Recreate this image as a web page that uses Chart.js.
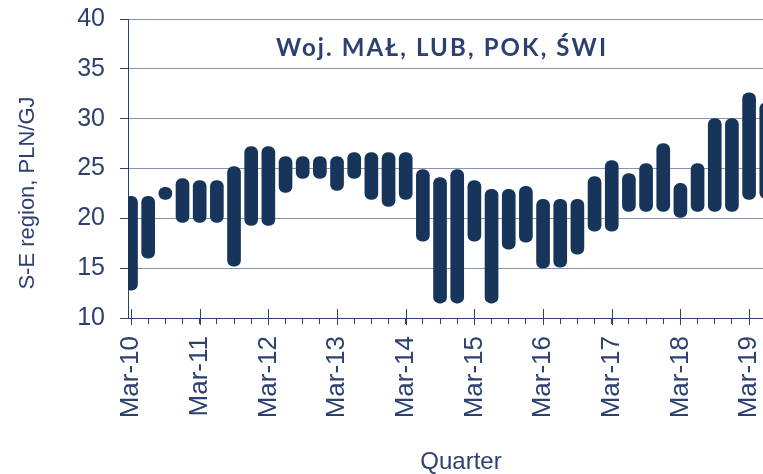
<!DOCTYPE html>
<html lang="pl">
<head>
    <meta charset="UTF-8">
    <title>Woj. MAŁ, LUB, POK, ŚWI</title>
    <script src="https://cdn.jsdelivr.net/npm/chart.js"></script>
    <style>
        body { margin: 0; background: #fff; overflow: hidden; }
        canvas { display: block; }
    </style>
</head>
<body>
    <canvas id="myChart" width="763" height="474"></canvas>
    <script>
        // Quarterly price ranges, S-E region (PLN/GJ)
        const quarters = [
            "Mar-10", "Jun-10", "Sep-10", "Dec-10", "Mar-11", "Jun-11", "Sep-11", "Dec-11",
            "Mar-12", "Jun-12", "Sep-12", "Dec-12", "Mar-13", "Jun-13", "Sep-13", "Dec-13",
            "Mar-14", "Jun-14", "Sep-14", "Dec-14", "Mar-15", "Jun-15", "Sep-15", "Dec-15",
            "Mar-16", "Jun-16", "Sep-16", "Dec-16", "Mar-17", "Jun-17", "Sep-17", "Dec-17",
            "Mar-18", "Jun-18", "Sep-18", "Dec-18", "Mar-19", "Jun-19"
        ];
        const lowPrice = [
            12.8, 16.0, 21.9, 19.6, 19.6, 19.6, 15.2, 19.3,
            19.3, 22.6, 24.0, 24.0, 22.8, 24.0, 21.9, 21.2,
            21.9, 17.7, 11.5, 11.5, 17.7, 11.5, 16.9, 17.6,
            15.0, 15.1, 16.4, 18.7, 18.7, 20.7, 20.7, 20.7,
            20.1, 20.7, 20.7, 20.7, 21.9, 22.0
        ];
        const highPrice = [
            22.2, 22.2, 23.1, 24.0, 23.8, 23.8, 25.2, 27.2,
            27.2, 26.2, 26.2, 26.2, 26.2, 26.6, 26.6, 26.6,
            26.6, 24.9, 24.1, 24.9, 23.8, 22.9, 22.9, 23.2,
            21.9, 21.9, 21.9, 24.2, 25.8, 24.5, 25.5, 27.5,
            23.5, 25.5, 30.0, 30.0, 32.6, 31.6
        ];
        const yTicks = [10, 15, 20, 25, 30, 35, 40];
        const chartTitle = "Woj. MAŁ, LUB, POK, ŚWI";

        const navy = "#2d4170";
        const barColor = "#17355a";
        const gridColor = "#8893ad";

        // extra text + crossing major ticks, Excel style
        const decorations = {
            id: "decorations",
            afterDraw(chart) {
                const { ctx, chartArea, scales } = chart;
                const x = scales.x;
                ctx.save();
                ctx.strokeStyle = navy;
                ctx.lineWidth = 1;
                quarters.forEach((q, i) => {
                    if (i % 4 !== 0) return;
                    const px = Math.round(x.getPixelForValue(i)) + 0.5;
                    ctx.beginPath();
                    ctx.moveTo(px, chartArea.bottom - 9);
                    ctx.lineTo(px, chartArea.bottom + 7);
                    ctx.stroke();
                });

                ctx.fillStyle = navy;
                ctx.textBaseline = "middle";

                // title is wider in the original, spread the letters a bit
                ctx.font = "bold 24px Lato";
                ctx.textAlign = "left";
                const w = ctx.measureText(chartTitle).width;
                const spacing = (330 - w) / (chartTitle.length - 1);
                ctx.letterSpacing = spacing + "px";
                ctx.fillText(chartTitle, 441 - 165, 48);
                ctx.letterSpacing = "0px";

                ctx.textAlign = "center";
                ctx.font = "24px 'Liberation Sans'";
                ctx.fillText("Quarter", 461, 462);

                ctx.translate(28, 193);
                ctx.rotate(-Math.PI / 2);
                ctx.font = "22px 'Liberation Sans'";
                ctx.fillText("S-E region, PLN/GJ", 0, 0);
                ctx.restore();
            }
        };

        const ctx = document.getElementById("myChart").getContext("2d");
        new Chart(ctx, {
            type: "bar",
            data: {
                datasets: [{
                    label: "Price range",
                    data: quarters.map((q, i) => ({ x: i, y: [lowPrice[i], highPrice[i]] })),
                    backgroundColor: barColor,
                    borderWidth: 0,
                    borderSkipped: false,
                    borderRadius: 6,
                    barThickness: 13
                }]
            },
            options: {
                responsive: false,
                animation: false,
                layout: { padding: { top: 19, right: 0, left: 0, bottom: 0 } },
                plugins: {
                    legend: { display: false },
                    tooltip: { enabled: false }
                },
                scales: {
                    x: {
                        type: "linear",
                        min: -0.175,
                        max: 36.81,
                        offset: false,
                        grid: {
                            offset: false,
                            drawOnChartArea: false,
                            tickLength: 6,
                            tickColor: navy
                        },
                        border: { color: navy, width: 1 },
                        ticks: {
                            stepSize: 1,
                            includeBounds: false,
                            autoSkip: false,
                            minRotation: 90,
                            maxRotation: 90,
                            padding: 12,
                            color: navy,
                            font: { family: "'Liberation Sans'", size: 26 },
                            callback: v => (v % 4 === 0 ? quarters[v] : "")
                        },
                        afterFit: s => {
                            s.height = 156;
                            s.paddingLeft = 0;
                            s.paddingRight = 0;
                        }
                    },
                    y: {
                        min: 10,
                        max: 40,
                        grid: {
                            color: gridColor,
                            tickColor: navy,
                            tickLength: 8
                        },
                        border: { color: navy, width: 1 },
                        afterBuildTicks: s => {
                            s.ticks = yTicks.map(v => ({ value: v }));
                        },
                        ticks: {
                            padding: 15,
                            color: navy,
                            font: { family: "'Liberation Sans'", size: 25 }
                        },
                        afterFit: s => {
                            s.width = 128;
                            s.paddingTop = 0;
                            s.paddingBottom = 0;
                        }
                    }
                }
            },
            plugins: [decorations]
        });
    </script>
</body>
</html>
